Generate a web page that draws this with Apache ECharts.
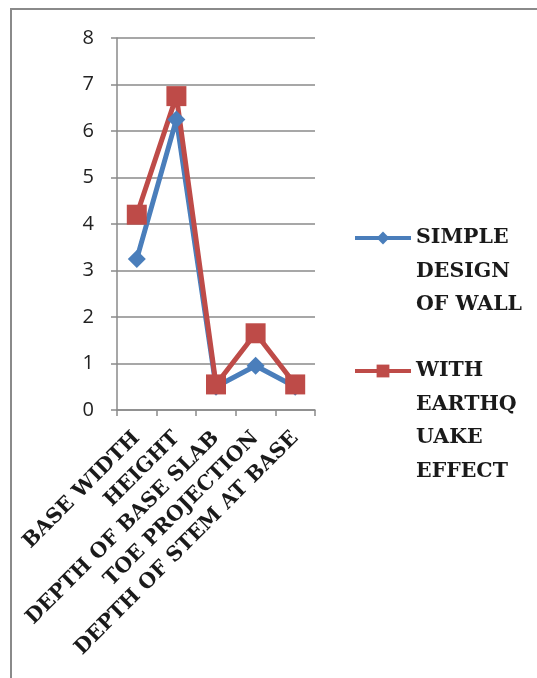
<!DOCTYPE html>
<html>
<head>
<meta charset="utf-8">
<script src="https://cdn.jsdelivr.net/npm/echarts@6/dist/echarts.min.js"></script>
<style>
  html, body { margin: 0; padding: 0; background: #fff; }
  #chart { width: 537px; height: 678px; }
</style>
</head>
<body>
<div id="chart"></div>
<script>
// Retaining wall design dimensions, simple design vs. with earthquake effect
const categories = ['BASE WIDTH', 'HEIGHT', 'DEPTH OF BASE SLAB', 'TOE PROJECTION', 'DEPTH OF STEM AT BASE'];
const simpleDesign = [3.25, 6.25, 0.5, 0.95, 0.5];
const withEarthquake = [4.2, 6.75, 0.55, 1.65, 0.55];
const yTicks = [0, 1, 2, 3, 4, 5, 6, 7, 8];

const seriesNames = ['SIMPLE\nDESIGN\nOF WALL', 'WITH\nEARTHQ\nUAKE\nEFFECT'];
const blue = '#4A7EBB';
const red = '#BE4B48';

const serifFont = '"DejaVu Serif", serif';
const legendLine = 33.5;

// Legend text is centred on its icon; leading blank lines put the first
// line of the wrapped name level with the icon instead.
function legendFor(name, iconCenterY) {
  const lines = name.split('\n').length;
  const total = 2 * lines - 1;
  return {
    data: [name],
    left: 353,
    top: iconCenterY - (total * legendLine) / 2,
    itemWidth: 56,
    itemHeight: 16,
    itemGap: 0,
    padding: 0,
    formatter: function (n) { return '\n'.repeat(lines - 1) + n; },
    lineStyle: { width: 4 },
    textStyle: {
      fontFamily: serifFont,
      fontWeight: 'bold',
      fontSize: 20.5,
      color: '#1a1a1a',
      lineHeight: legendLine
    }
  };
}

const chart = echarts.init(document.getElementById('chart'), null, { renderer: 'canvas' });
chart.setOption({
  backgroundColor: '#ffffff',
  animation: false,
  graphic: [{
    type: 'rect',
    shape: { x: 11, y: 9, width: 600, height: 720 },
    style: { fill: 'none', stroke: '#8a8a8a', lineWidth: 2 },
    silent: true
  }],
  grid: { left: 117, right: 222, top: 38, bottom: 268, containLabel: false },
  legend: [
    legendFor(seriesNames[0], 238),
    legendFor(seriesNames[1], 371)
  ],
  xAxis: {
    type: 'category',
    data: categories,
    boundaryGap: true,
    axisLine: { lineStyle: { color: '#8a8a8a', width: 1.5 } },
    axisTick: { show: true, length: 6, lineStyle: { color: '#8a8a8a', width: 1.5 } },
    axisLabel: {
      rotate: 45,
      interval: 0,
      margin: 25,
      fontFamily: serifFont,
      fontWeight: 'bold',
      fontSize: 20.5,
      color: '#1a1a1a'
    }
  },
  yAxis: {
    type: 'value',
    min: yTicks[0],
    max: yTicks[yTicks.length - 1],
    interval: 1,
    axisLine: { show: true, lineStyle: { color: '#8a8a8a', width: 1.5 } },
    axisTick: { show: true, length: 6, lineStyle: { color: '#8a8a8a', width: 1.5 } },
    axisLabel: {
      margin: 23,
      fontFamily: '"Open Sans", sans-serif',
      fontSize: 20,
      color: '#222'
    },
    splitLine: { show: true, lineStyle: { color: '#8a8a8a', width: 1.5 } }
  },
  series: [
    {
      name: seriesNames[0],
      type: 'line',
      data: simpleDesign,
      symbol: 'diamond',
      symbolSize: 18,
      itemStyle: { color: blue },
      lineStyle: { color: blue, width: 5 }
    },
    {
      name: seriesNames[1],
      type: 'line',
      data: withEarthquake,
      symbol: 'rect',
      symbolSize: 20,
      itemStyle: { color: red },
      lineStyle: { color: red, width: 5 }
    }
  ]
});
</script>
</body>
</html>
